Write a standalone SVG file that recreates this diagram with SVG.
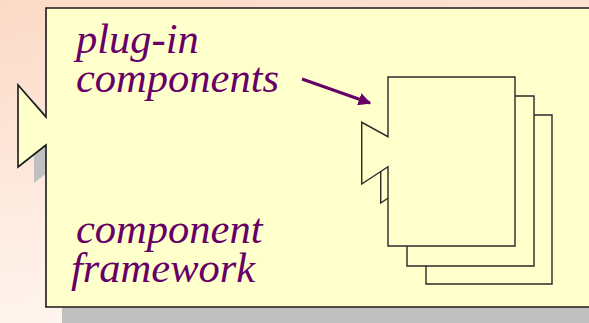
<svg xmlns="http://www.w3.org/2000/svg" width="589" height="323" viewBox="0 0 589 323">
  <defs>
    <linearGradient id="bg" x1="0" y1="0" x2="0.3" y2="1">
      <stop offset="0" stop-color="#FCDAC6"/>
      <stop offset="1" stop-color="#FFF6F1"/>
    </linearGradient>
    <marker id="head" viewBox="0 0 10 10" refX="9" refY="5" markerWidth="4.2" markerHeight="4.2" orient="auto" markerUnits="strokeWidth">
      <path d="M0,0 L10,5 L0,10 Z" fill="#660066"/>
    </marker>
  </defs>
  <style>
    .label { font-family: "Liberation Serif", "DejaVu Serif", serif; font-style: italic; font-size: 42.5px; fill: #660066; }
    .frame { fill: #FFFFCC; stroke: #1a1a1a; stroke-width: 1.6; }
    .shadow { fill: #C0C0C0; }
    .page { fill: #FFFFCC; stroke: #2a2a2a; stroke-width: 1.4; stroke-linejoin: miter; }
    .link { stroke: #660066; stroke-width: 3; fill: none; }
  </style>

  <rect x="0" y="0" width="589" height="323" fill="url(#bg)"/>

  <!-- component framework: box with a plug socket on its left side -->
  <g id="framework">
    <path class="shadow" d="M62,24 H620 V340 H62 V161 L34,183 V101 L62,133 Z"/>
    <path class="frame" d="M46,8 H620 V307 H46 V145 L18,167 V85 L46,117 Z"/>
    <text class="label"><tspan x="76" y="243">component</tspan><tspan x="71" y="282">framework</tspan></text>
  </g>

  <!-- stack of plug-in components, back to front -->
  <g id="plugins">
    <path class="page" d="M426,115 H552 V284 H426 V204 L399.7,221.5 V160 L426,174.5 Z"/>
    <path class="page" d="M407,96 H534 V266 H407 V185.7 L380.7,203 V141 L407,155.7 Z"/>
    <path class="page" d="M388,77 H515 V246 H388 V166.7 L361.7,184 V122.3 L388,136.7 Z"/>
  </g>

  <g id="plugin-label">
    <text class="label"><tspan x="76" y="53">plug-in</tspan><tspan x="76" y="92">components</tspan></text>
  </g>

  <g id="connectors">
    <line class="link" x1="302" y1="79" x2="370" y2="103" marker-end="url(#head)"/>
  </g>
</svg>
